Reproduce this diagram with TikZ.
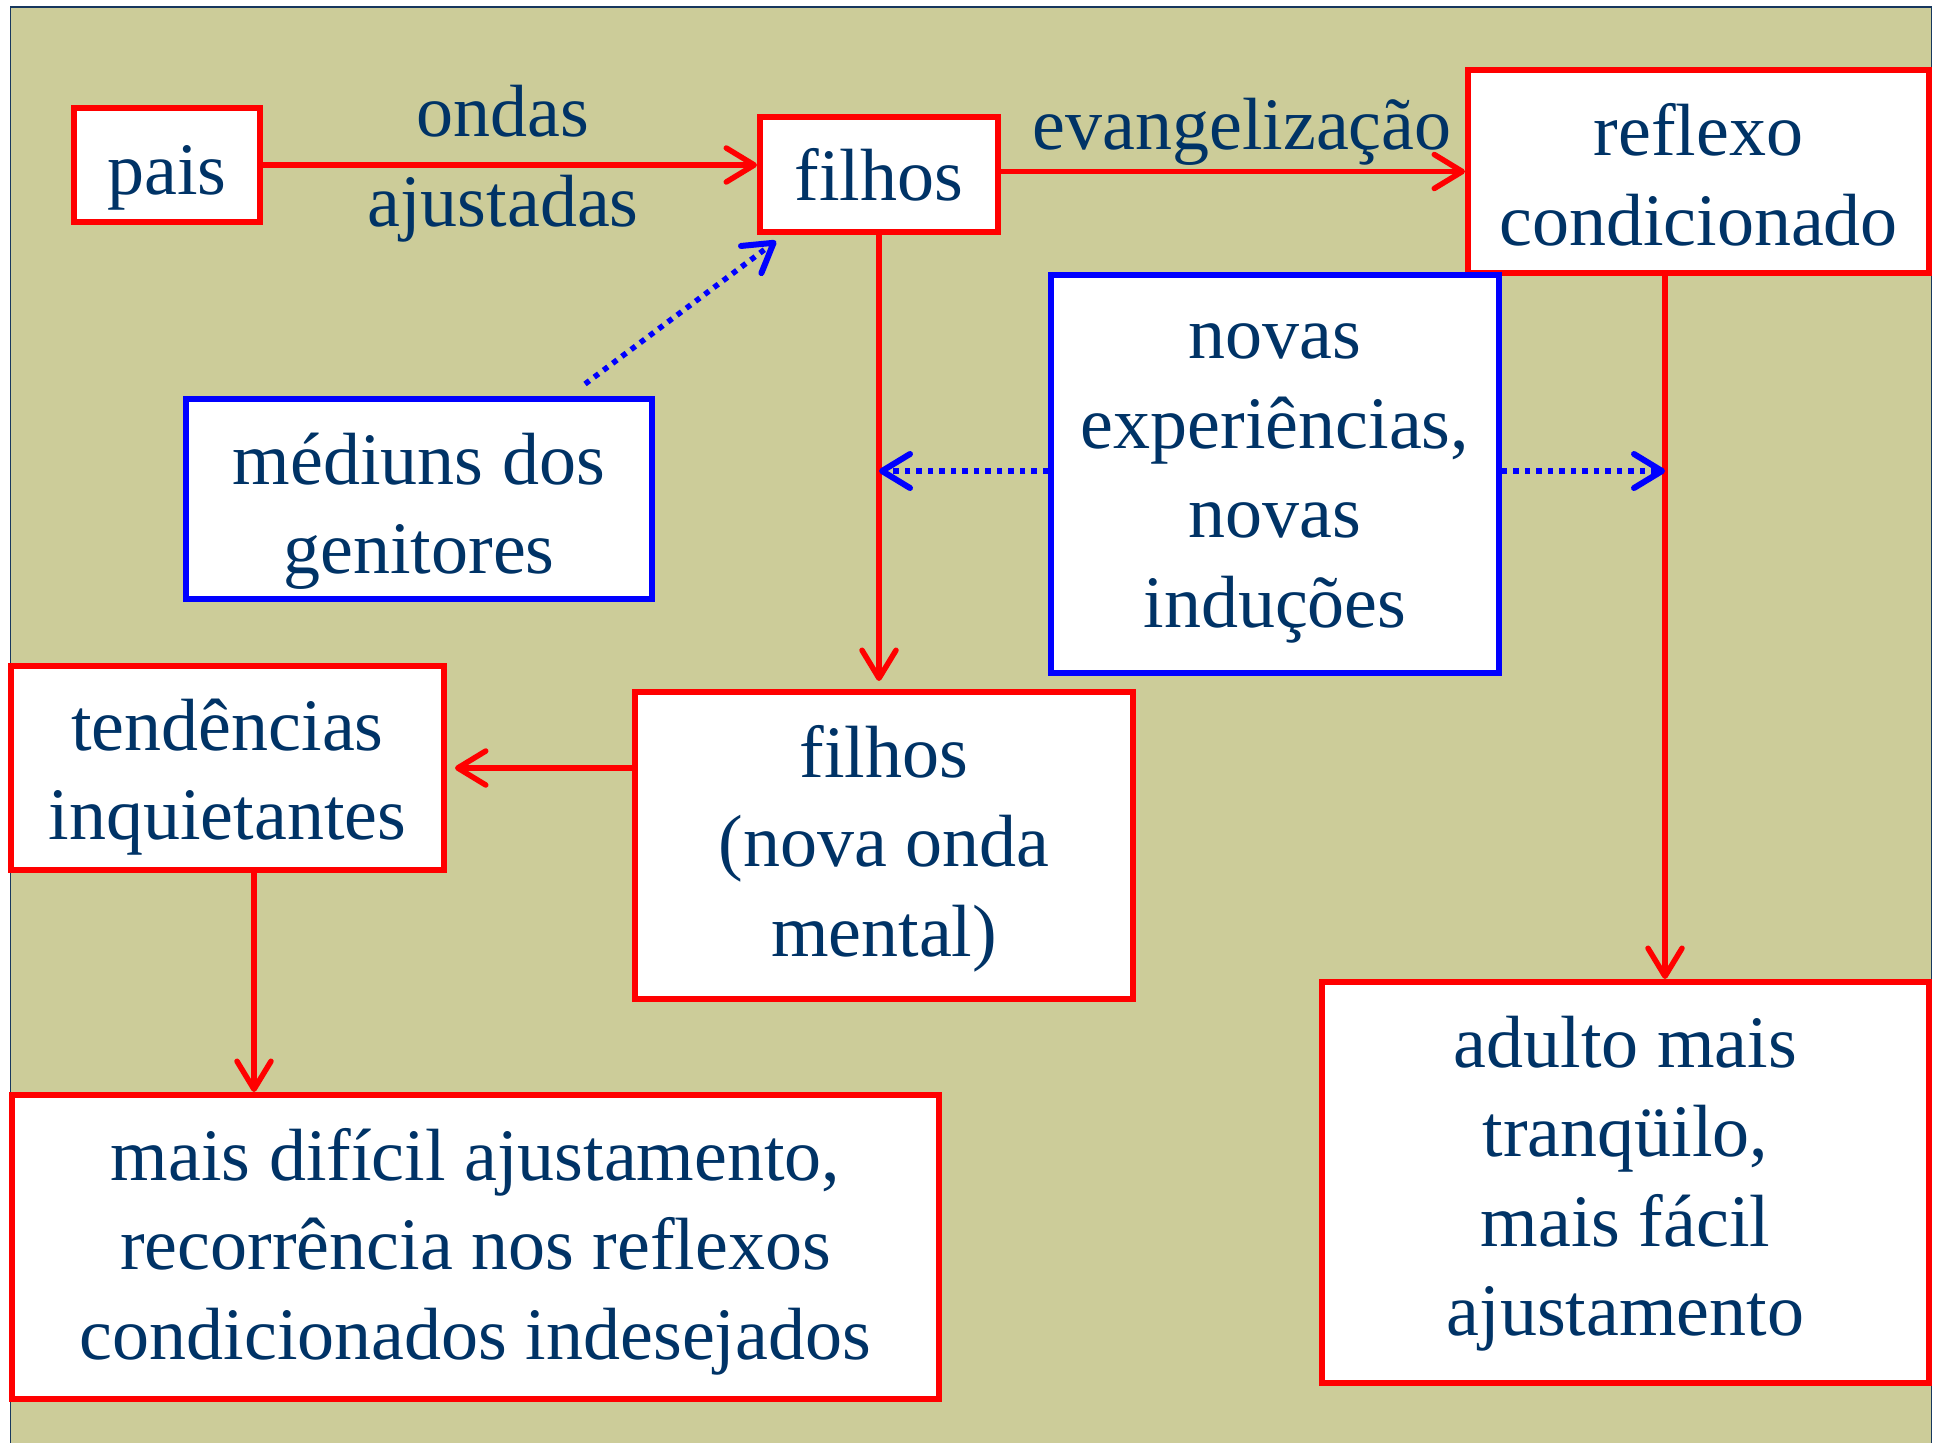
\documentclass[tikz,border=0pt]{standalone}
\usepackage{fontspec}
\setmainfont{Liberation Serif}
\usetikzlibrary{arrows.meta,calc}
\definecolor{bgc}{RGB}{204,204,153}
\definecolor{framec}{RGB}{23,55,94}
\definecolor{txt}{RGB}{0,51,102}
\definecolor{rd}{RGB}{255,0,0}
\definecolor{bl}{RGB}{0,0,255}
\newcommand{\bxt}[2]{\raisebox{-#1pt}[0pt][0pt]{\begin{tabular}[t]{@{}c@{}}#2\end{tabular}}}
\tikzset{
  bigfont/.style={font=\fontsize{74}{89.5}\selectfont, text=txt},
  redbox/.style={draw=rd, line width=6pt, fill=white, inner sep=0pt, bigfont},
  bluebox/.style={redbox, draw=bl, line width=5.5pt},
  redarr/.style={draw=rd, line width=5.5pt, -{Straight Barb[length=28pt,width=34pt,round]}},
  bluearr/.style={draw=bl, line width=5.5pt, dash pattern=on 5.5pt off 6pt, -{Straight Barb[length=28pt,width=34pt,round,line width=6pt]}},
  lbl/.style={bigfont, inner sep=0pt, anchor=base}
}
\begin{document}
\begin{tikzpicture}[x=1pt,y=-1pt]
\useasboundingbox (0,0) rectangle (1934,1442);
\fill[bgc] (10.5,7) rectangle (1931.5,1450);
\draw[framec, line width=1.5pt] (10.5,1450) -- (10.5,7) -- (1931.5,7) -- (1931.5,1450);

% boxes
\node[redbox, minimum width=186pt, minimum height=114pt] (pais) at (167,165) {\bxt{29}{pais}};
\node[redbox, minimum width=238pt, minimum height=115pt] (fil) at (879,174.5) {\bxt{26.5}{filhos}};
\node[redbox, minimum width=461pt, minimum height=203pt] (refl) at (1698.5,171.5) {\bxt{-15.5}{reflexo\\condicionado}};
\node[bluebox, minimum width=466pt, minimum height=200pt] (med) at (419,499) {\bxt{-15}{médiuns dos\\genitores}};
\node[bluebox, minimum width=448pt, minimum height=398pt] (nov) at (1275,474) {\bxt{-115.5}{novas\\experiências,\\novas\\induções}};
\node[redbox, minimum width=433pt, minimum height=204pt] (tend) at (227.5,768) {\bxt{-18}{tendências\\inquietantes}};
\node[redbox, minimum width=498pt, minimum height=307pt] (fil2) at (884,845.5) {\bxt{-68.5}{filhos\\(nova onda\\mental)}};
\node[redbox, minimum width=927pt, minimum height=304pt] (mais) at (475.5,1247) {\bxt{-67}{mais difícil ajustamento,\\recorrência nos reflexos\\condicionados indesejados}};
\node[redbox, minimum width=607pt, minimum height=401pt] (adul) at (1625.5,1182.5) {\bxt{-115.5}{adulto mais\\tranqüilo,\\mais fácil\\ajustamento}};

% labels
\node[lbl] (ondas) at (503,137) {\begin{tabular}[t]{@{}c@{}}ondas\\ajustadas\end{tabular}};
\node[lbl] (evang) at (1242,150) {evangelização};

% helper coordinates
\coordinate (rdown) at ($(refl.south west)+(200,0)$);
\coordinate (tdown) at ($(tend.south west)+(246,0)$);
\coordinate (ms) at (585,384);

% red connectors
\draw[redarr] (pais.east) -- (pais.east -| fil.west);
\draw[redarr] (refl.west -| fil.east) -- (refl.west);
\draw[redarr] (fil.south) -- ($(fil.south |- fil2.north)+(0,-8)$);
\draw[redarr] (rdown) -- (rdown |- adul.north);
\draw[redarr] (tend.east -| fil2.west) -- ($(tend.east)+(8,0)$);
\draw[redarr] (tdown) -- (tdown |- mais.north);

% blue dotted connectors
\draw[bluearr] (ms) -- ($(fil.south west)+(19,6)$);
\draw[bluearr] (nov.west |- 0,471) -- (fil.south |- 0,471);
\draw[bluearr] (nov.east |- 0,471) -- (rdown |- 0,471);
\end{tikzpicture}
\end{document}
